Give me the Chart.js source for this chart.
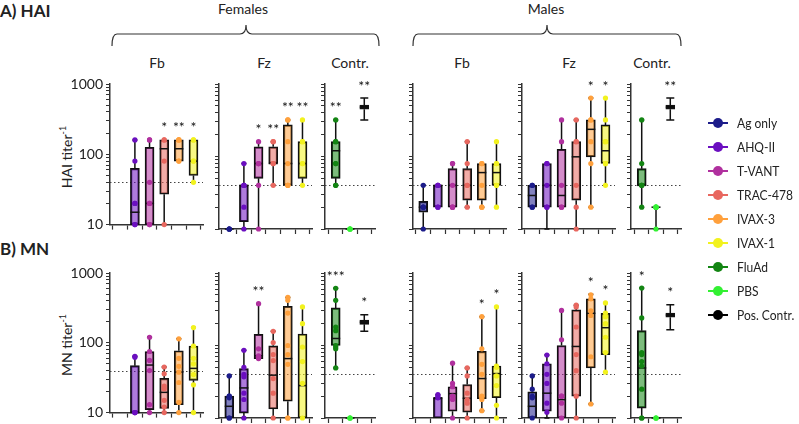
<!DOCTYPE html>
<html>
<head>
<meta charset="utf-8">
<script src="https://cdn.jsdelivr.net/npm/chart.js@4.4.1/dist/chart.umd.min.js"></script>
<style>
  body { margin: 0; background: #fff; font-family: Lato, "Noto Sans", sans-serif; color: #222; }
  #wrap { position: relative; width: 799px; height: 424px; overflow: hidden; }
  #wrap canvas { position: absolute; }
  .t { position: absolute; white-space: nowrap; font-size: 14px; transform: translate(-50%, -50%); }
  .h { position: absolute; white-space: nowrap; font-size: 17px; font-weight: bold; }
  .yt { position: absolute; white-space: nowrap; font-size: 14px; transform: translate(-50%, -50%) rotate(-90deg); }
  .yt sup { font-size: 9px; }
  .lg { position: absolute; left: 706px; height: 20px; }
  .lg i { position: absolute; left: 2px; top: 9px; width: 20px; height: 2.5px; }
  .lg b { position: absolute; left: 7px; top: 5.5px; width: 10px; height: 10px; border-radius: 50%; }
  .lg span { position: absolute; left: 31px; top: 1px; font-size: 14px; white-space: nowrap; transform: scaleX(0.86); transform-origin: left center; }
</style>
</head>
<body>
<div id="wrap">
  <svg width="799" height="424" style="position:absolute;left:0;top:0">
    <path d="M112,46 Q112,34 117,34 L240,34 Q246,34 246,25 Q246,34 252,34 L374,34 Q379,34 379,46" fill="none" stroke="#333" stroke-width="1.2"/>
    <path d="M413,46 Q413,34 418,34 L541,34 Q547,34 547,25 Q547,34 553,34 L676,34 Q681,34 681,46" fill="none" stroke="#333" stroke-width="1.2"/>
  </svg>
  <div class="h" style="left:0;top:0">A) HAI</div>
  <div class="h" style="left:0;top:238px">B) MN</div>
  <div class="t" style="left:243px;top:8px">Females</div>
  <div class="t" style="left:546px;top:8px">Males</div>
  <div class="t" style="left:157px;top:62px">Fb</div>
  <div class="t" style="left:264px;top:62px">Fz</div>
  <div class="t" style="left:350px;top:62px">Contr.</div>
  <div class="t" style="left:462px;top:62px">Fb</div>
  <div class="t" style="left:569px;top:62px">Fz</div>
  <div class="t" style="left:652px;top:62px">Contr.</div>
  <div class="yt" style="left:66px;top:157px">HAI titer<sup>-1</sup></div>
  <div class="yt" style="left:66px;top:345px">MN titer<sup>-1</sup></div>
</div>
<script>
// groups and colours
const groupLabels = ["Ag only", "AHQ-II", "T-VANT", "TRAC-478", "IVAX-3", "IVAX-1"];
const groupColors = ["#1c1c8a", "#6b0fc0", "#b0309e", "#e8675f", "#ffa03c", "#f2f21e"];
const controlLabels = ["FluAd", "PBS", "Pos. Contr."];
const controlColors = ["#138513", "#33f033", "#000000"];

const yTicks = [10, 20, 30, 40, 50, 60, 70, 80, 90, 100, 200, 300, 400, 500, 600, 700, 800, 900, 1000];
const yLabels = [10, 100, 1000];
const refLine = 40;

// box stats: [min, q1, median, q3, max]
// HAI, females
const haiFFbBox = [null, [10, 10, 15, 63, 160], [10, 10, 20, 126, 160], [10, 27, 120, 160, 160], [80, 80, 120, 160, 160], [40, 50, 80, 160, 160]];
const haiFFbPts = [[], [160, 80, 20, 20, 10, 10], [160, 160, 40, 20, 20, 10, 10], [160, 160, 80, 10], [160, 160, 160, 80, 80], [160, 160, 80, 80, 40]];
const haiFFbStars = ["", "", "", "*", "**", "*"];

const haiFFzBox = [[10, 10, 10, 10, 10], [10, 12.6, 40, 40, 80], [10, 50, 80, 136, 160], [40, 80, 80, 136, 160], [40, 40, 80, 273, 320], [40, 50, 80, 160, 320]];
const haiFFzPts = [[10, 10, 10, 10], [80, 40, 40, 40, 20, 10], [160, 80, 80, 80, 40, 10], [160, 160, 80, 80, 40], [320, 320, 160, 80, 40, 40, 40], [320, 160, 160, 80, 80, 40]];
const haiFFzStars = ["", "", "*", "**", "**", "**"];

const haiFCBox = [[40, 50, 120, 160, 320], [10, 10, 10, 10, 10], [320, 450, 480, 510, 640]];
const haiFCPts = [[320, 160, 160, 80, 80, 40, 40], [10, 10, 10, 10], []];
const haiFCStars = ["**", "", "**"];

// HAI, males
const haiMFbBox = [[10, 17, 20, 24, 40], [20, 20, 40, 40, 40], [20, 20, 40, 68, 80], [20, 25, 40, 68, 160], [20, 25, 60, 80, 80], [20, 40, 60, 80, 160]];
const haiMFbPts = [[40, 20, 20, 20, 10], [40, 40, 40, 20, 20], [80, 80, 40, 20, 20, 20], [160, 80, 40, 40, 20], [80, 80, 40, 20, 20], [160, 80, 80, 40, 40, 20]];
const haiMFbStars = ["", "", "", "", "", ""];

const haiMFzBox = [[20, 20, 29, 40, 40], [10, 20, 40, 80, 80], [20, 20, 29, 126, 320], [10, 25, 99, 160, 320], [20, 99, 237, 320, 640], [40, 80, 120, 273, 640]];
const haiMFzPts = [[40, 40, 20, 20], [80, 80, 40, 20, 20], [320, 160, 40, 20, 20], [320, 160, 160, 40, 20, 10], [640, 320, 320, 160, 80, 20], [640, 320, 160, 160, 80, 80, 40]];
const haiMFzStars = ["", "", "", "", "*", "*"];

const haiMCBox = [[20, 40, 40, 68, 320], [10, 20, 20, 20, 20], [320, 450, 480, 510, 640]];
const haiMCPts = [[320, 80, 40, 40, 40, 20], [20, 20, 20, 20, 10], []];
const haiMCStars = ["", "", "**"];

// MN, females
const mnFFbBox = [null, [10, 10, 10, 47, 64], [10, 11, 48, 75, 122], [10, 11.5, 19.5, 31, 45], [10, 13, 38, 77, 114], [10, 29, 43, 90, 165]];
const mnFFbPts = [[], [64, 62, 10, 10, 10], [120, 75, 56, 40, 13, 10], [45, 36, 24, 22, 15, 12, 10], [114, 60, 46, 38, 27, 14, 10], [165, 90, 60, 50, 35, 25, 10]];
const mnFFbStars = ["", "", "", "", "", ""];

const mnFFzBox = [[10, 10, 14.5, 20, 38], [10, 11.7, 26, 48, 86], [66, 66, 72, 143, 377], [10, 13.3, 39, 99, 157], [10, 17, 66, 348, 460], [10, 10, 28, 144, 340]];
const mnFFzPts = [[38, 20, 20, 19, 10, 10], [86, 50, 40, 37, 22, 18, 10], [377, 90, 72, 70, 68, 66], [157, 110, 75, 62, 35, 22, 10], [460, 420, 280, 100, 75, 55, 10, 10], [340, 200, 95, 60, 30, 10]];
const mnFFzStars = ["", "", "**", "", "", ""];

const mnFCBox = [[49, 100, 125, 330, 616], [10, 10, 10, 10, 10], [157, 196, 210, 225, 266]];
const mnFCPts = [[616, 420, 180, 160, 100, 95, 90, 49], [10, 10, 10], []];
const mnFCStars = ["***", "", "*"];

// MN, males
const mnMFbBox = [null, [10, 10, 19, 19, 21], [10, 12.4, 21.7, 27, 57], [10, 12, 18.7, 29, 49], [12.6, 18.5, 35, 83, 250], [10, 19, 41, 52, 340]];
const mnMFbPts = [[], [21, 20, 19], [57, 30, 27, 20, 18, 10], [49, 38, 22, 18, 16, 10], [250, 90, 55, 40, 20, 19, 18, 12.6], [340, 52, 50, 38, 28, 15, 10]];
const mnMFbStars = ["", "", "", "", "*", "*"];

const mnMFzBox = [[10, 10, 14.5, 23, 38], [10, 12.4, 22, 56, 74], [10, 10, 17.9, 100, 305], [10, 20, 97, 310, 360], [15.6, 49, 278, 440, 510], [43, 75, 176, 278, 386]];
const mnMFzPts = [[38, 25, 20, 19, 10], [74, 56, 40, 30, 16, 12], [305, 120, 20, 20, 16, 10], [360, 340, 180, 75, 45, 20, 10], [500, 440, 300, 260, 70, 15.6], [386, 280, 250, 200, 130, 80, 43]];
const mnMFzStars = ["", "", "", "", "*", "*"];

const mnMCBox = [[10, 13.7, 49, 160, 620], [10, 10, 10, 10, 10], [165, 246, 263, 280, 365]];
const mnMCPts = [[620, 240, 80, 75, 60, 52, 25, 10, 10], [10, 10, 10], []];
const mnMCStars = ["*", "", "*"];

// layout of the panels (chart area edges in page pixels)
const panelGeom = [
  { left: 110, right: 203, min: -0.7, max: 5.65 },
  { left: 219, right: 312, min: -0.7, max: 5.65 },
  { left: 325, right: 375, min: -0.75, max: 2.75 },
  { left: 413, right: 506, min: -0.7, max: 5.65 },
  { left: 522, right: 615, min: -0.7, max: 5.65 },
  { left: 631, right: 681, min: -0.75, max: 2.75 }
];
const rowGeom = [
  { top: 60, pad: 24, height: 176, xh: 7 },
  { top: 250, pad: 23, height: 174, xh: 6 }
];
const yAxisW = 45;

Chart.defaults.font.family = "Lato, 'Noto Sans', sans-serif";

function fade(hex, a) {
  if (hex === "#000000") return "#000";
  const n = parseInt(hex.slice(1), 16);
  return `rgba(${n >> 16}, ${(n >> 8) & 255}, ${n & 255}, ${a})`;
}

// whiskers, medians, reference line and stars
const boxPlot = {
  id: "boxPlot",
  beforeDatasetsDraw(chart) {
    const { ctx, chartArea, scales: { x, y } } = chart;
    const ds = chart.data.datasets[0];
    ctx.save();
    ctx.strokeStyle = "#444";
    ctx.lineWidth = 1;
    ctx.setLineDash([1.5, 2.5]);
    const yr = Math.round(y.getPixelForValue(refLine)) + 0.5;
    ctx.beginPath();
    ctx.moveTo(chartArea.left, yr);
    ctx.lineTo(chartArea.right, yr);
    ctx.stroke();
    ctx.setLineDash([]);
    ctx.strokeStyle = "#111";
    ctx.lineWidth = 1.5;
    ds.stats.forEach((b, i) => {
      if (!b) return;
      const px = x.getPixelForValue(i);
      const cap = ds.caps[i];
      const yMin = y.getPixelForValue(b[0]), yQ1 = y.getPixelForValue(b[1]);
      const yQ3 = y.getPixelForValue(b[3]), yMax = y.getPixelForValue(b[4]);
      ctx.beginPath();
      if (b[4] > b[3]) {
        ctx.moveTo(px, yQ3); ctx.lineTo(px, yMax);
        ctx.moveTo(px - cap, yMax); ctx.lineTo(px + cap, yMax);
      }
      if (b[0] < b[1]) {
        ctx.moveTo(px, yQ1); ctx.lineTo(px, yMin);
        ctx.moveTo(px - cap, yMin); ctx.lineTo(px + cap, yMin);
      }
      ctx.stroke();
    });
    ctx.restore();
  },
  afterDatasetDraw(chart, args) {
    if (args.meta.type !== "bar") return;
    const { ctx, scales: { y } } = chart;
    const ds = chart.data.datasets[args.index];
    ctx.save();
    ctx.strokeStyle = "#111";
    ctx.lineWidth = 1.5;
    ds.data.forEach((d, j) => {
      const el = args.meta.data[j];
      const b = ds.stats[d.x];
      const py = y.getPixelForValue(b[2]);
      ctx.beginPath();
      ctx.moveTo(el.x - el.width / 2, py);
      ctx.lineTo(el.x + el.width / 2, py);
      ctx.stroke();
    });
    ctx.restore();
  },
  afterDatasetsDraw(chart) {
    const { ctx, scales: { x, y } } = chart;
    const ds = chart.data.datasets[0];
    ctx.save();
    ctx.fillStyle = "#111";
    ctx.font = "14px Lato, 'Noto Sans', sans-serif";
    ctx.textAlign = "center";
    ctx.textBaseline = "middle";
    ds.stars.forEach((s, i) => {
      if (!s || !ds.stats[i]) return;
      ctx.fillText(s, x.getPixelForValue(i), y.getPixelForValue(ds.stats[i][4]) - 12);
    });
    ctx.restore();
  }
};

function makePanel(row, col, box, pts, stars) {
  const wrap = document.getElementById("wrap");
  const g = panelGeom[col], r = rowGeom[row];
  const isControl = col === 2 || col === 5;
  const colors = isControl ? controlColors : groupColors;
  const fills = colors.map(c => fade(c, 0.55));
  const caps = colors.map(c => (c === "#000000" ? 4 : 2.5));

  const canvas = document.createElement("canvas");
  canvas.width = yAxisW + (g.right - g.left) + 8;
  canvas.height = r.height;
  canvas.style.left = (g.left - yAxisW) + "px";
  canvas.style.top = r.top + "px";
  wrap.appendChild(canvas);

  const barData = [];
  box.forEach((b, i) => { if (b) barData.push({ x: i, y: [b[1], b[3]] }); });
  const ptData = [];
  pts.forEach((list, i) => list.forEach(v => ptData.push({ x: i, y: v })));

  new Chart(canvas, {
    type: "bar",
    data: {
      datasets: [
        {
          type: "bar",
          data: barData,
          stats: box,
          stars: stars,
          caps: caps,
          backgroundColor: c => (c.raw ? fills[c.raw.x] : "#ccc"),
          borderColor: "#111",
          borderWidth: 1.5,
          borderSkipped: false,
          barThickness: 9,
          order: 2,
          clip: false
        },
        {
          type: "scatter",
          data: ptData,
          pointRadius: 2.6,
          pointBorderWidth: 0,
          pointBackgroundColor: c => (c.raw ? colors[c.raw.x] : "#ccc"),
          order: 1,
          clip: false
        }
      ]
    },
    options: {
      responsive: false,
      animation: false,
      devicePixelRatio: 1,
      events: [],
      layout: { padding: { top: r.pad, right: 8, left: 0, bottom: 0 } },
      plugins: { legend: { display: false }, tooltip: { enabled: false } },
      scales: {
        x: {
          type: "linear",
          min: g.min,
          max: g.max,
          offset: false,
          afterBuildTicks: s => { s.ticks = colors.map((c, i) => ({ value: i })); },
          afterFit: s => { s.height = r.xh; },
          grid: { drawOnChartArea: false, tickLength: 5, tickColor: "#333", tickWidth: 1.2 },
          border: { color: "#333", width: 1.5 },
          ticks: { display: false }
        },
        y: {
          type: "logarithmic",
          min: 10,
          max: 1000,
          afterBuildTicks: s => { s.ticks = yTicks.map(v => ({ value: v })); },
          afterFit: s => { s.width = yAxisW; },
          grid: { drawOnChartArea: false, tickLength: 4, tickColor: "#333", tickWidth: 1 },
          border: { color: "#333", width: 1.5 },
          ticks: {
            display: col === 0,
            autoSkip: false,
            padding: 3,
            color: "#222",
            font: { size: 14 },
            callback: v => (yLabels.includes(v) ? String(v) : "")
          }
        }
      }
    },
    plugins: [boxPlot]
  });
}

// legend on the right
function makeLegend() {
  const wrap = document.getElementById("wrap");
  const labels = groupLabels.concat(controlLabels);
  const colors = groupColors.concat(controlColors);
  labels.forEach((lab, i) => {
    const item = document.createElement("div");
    item.className = "lg";
    item.style.top = (112.5 + i * 24) + "px";
    item.innerHTML = `<i style="background:${colors[i]}"></i><b style="background:${colors[i]}"></b><span>${lab}</span>`;
    wrap.appendChild(item);
  });
}

makePanel(0, 0, haiFFbBox, haiFFbPts, haiFFbStars);
makePanel(0, 1, haiFFzBox, haiFFzPts, haiFFzStars);
makePanel(0, 2, haiFCBox, haiFCPts, haiFCStars);
makePanel(0, 3, haiMFbBox, haiMFbPts, haiMFbStars);
makePanel(0, 4, haiMFzBox, haiMFzPts, haiMFzStars);
makePanel(0, 5, haiMCBox, haiMCPts, haiMCStars);
makePanel(1, 0, mnFFbBox, mnFFbPts, mnFFbStars);
makePanel(1, 1, mnFFzBox, mnFFzPts, mnFFzStars);
makePanel(1, 2, mnFCBox, mnFCPts, mnFCStars);
makePanel(1, 3, mnMFbBox, mnMFbPts, mnMFbStars);
makePanel(1, 4, mnMFzBox, mnMFzPts, mnMFzStars);
makePanel(1, 5, mnMCBox, mnMCPts, mnMCStars);
makeLegend();
</script>
</body>
</html>
